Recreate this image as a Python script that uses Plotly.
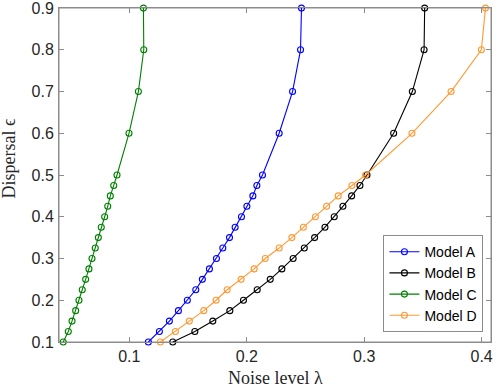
import plotly.graph_objects as go

eps_fine = [0.1, 0.125, 0.15, 0.175, 0.2, 0.225, 0.25, 0.275, 0.3, 0.325, 0.35,
            0.375, 0.4, 0.425, 0.45, 0.475, 0.5, 0.6, 0.7, 0.8, 0.9]

model_a = [0.1162, 0.1256, 0.1341, 0.1418, 0.1494, 0.1566, 0.1622, 0.1682, 0.1742,
           0.1796, 0.1853, 0.1901, 0.1955, 0.2001, 0.2052, 0.2086, 0.2134,
           0.2276, 0.2390, 0.2458, 0.2466]
model_b = [0.1370, 0.1558, 0.1711, 0.1856, 0.1972, 0.2089, 0.2200, 0.2299, 0.2395,
           0.2490, 0.2578, 0.2666, 0.2745, 0.2819, 0.2893, 0.2964, 0.3024,
           0.3251, 0.3410, 0.3510, 0.3515]
model_c = [0.0437, 0.0480, 0.0512, 0.0543, 0.0571, 0.0599, 0.0628, 0.0656, 0.0682,
           0.0710, 0.0736, 0.0761, 0.0790, 0.0816, 0.0838, 0.0867, 0.0895,
           0.0997, 0.1077, 0.1123, 0.1120]
model_d = [0.1264, 0.1392, 0.1511, 0.1634, 0.1739, 0.1833, 0.1952, 0.2063, 0.2157,
           0.2276, 0.2384, 0.2482, 0.2585, 0.2680, 0.2779, 0.2896, 0.3012,
           0.3407, 0.3740, 0.3998, 0.4033]

names = ["Model A", "Model B", "Model C", "Model D"]
colors = ["#0000ff", "#000000", "#008000", "#ff9933"]
series = [model_a, model_b, model_c, model_d]

x_ticks = [0.1, 0.2, 0.3, 0.4]
y_ticks = [0.1, 0.2, 0.3, 0.4, 0.5, 0.6, 0.7, 0.8, 0.9]
x_title = "Noise level λ"
y_title = "Dispersal ϵ"

fig = go.Figure()
for name, col, xs in zip(names, colors, series):
    fig.add_trace(go.Scatter(
        x=xs, y=eps_fine, mode="lines+markers", name=name, cliponaxis=False,
        line=dict(color=col, width=1.1),
        marker=dict(symbol="circle-open", size=6, color=col, line=dict(width=1.1, color=col)),
    ))

axis_common = dict(
    showline=True, linecolor="#8c8c8c", linewidth=1, mirror="ticks",
    ticks="inside", ticklen=5, tickcolor="#8c8c8c", tickwidth=1,
    showgrid=False, zeroline=False, automargin=False, ticklabeloverflow="allow",
    tickfont=dict(family="Liberation Sans, Arial, sans-serif", size=16, color="#262626"),
)

serif = "Liberation Serif, Times New Roman, serif"

fig.update_layout(
    width=498, height=389,
    margin=dict(l=59, r=7, t=8, b=47),
    paper_bgcolor="white", plot_bgcolor="white",
    showlegend=True,
    legend=dict(
        x=0.751, y=0.32, xanchor="left", yanchor="top",
        bgcolor="white", bordercolor="#8c8c8c", borderwidth=1,
        font=dict(family="Liberation Sans, Arial, sans-serif", size=14, color="#000000"),
        tracegroupgap=0, itemwidth=30,
    ),
    xaxis=dict(
        range=[0.0401, 0.408], tickvals=x_ticks, ticktext=[str(v) for v in x_ticks],
        **axis_common,
    ),
    yaxis=dict(
        range=[0.0999, 0.9002], tickvals=y_ticks, ticktext=[str(v) for v in y_ticks],
        ticklabelstandoff=1,
        **axis_common,
    ),
    shapes=[dict(type="rect", xref="paper", yref="paper", x0=0, y0=0, x1=1, y1=1,
                 line=dict(color="#8c8c8c", width=1), layer="below")],
    annotations=[
        dict(text=x_title, xref="paper", yref="paper", x=0.5005, y=-0.1066,
             xanchor="center", yanchor="middle", showarrow=False,
             font=dict(family=serif, size=18, color="#262626")),
        dict(text=y_title, xref="paper", yref="paper", x=-0.1155, y=0.55,
             xanchor="center", yanchor="middle", showarrow=False, textangle=-90,
             font=dict(family=serif, size=18, color="#262626")),
    ],
)

fig.write_html("out.html", config={"displayModeBar": False},
               post_script="document.body.style.margin='0';document.body.style.padding='0';document.body.style.overflow='hidden';")
